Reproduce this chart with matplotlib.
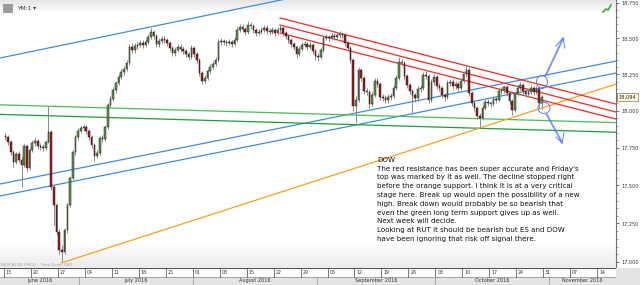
import matplotlib
matplotlib.use('Agg')
import matplotlib.pyplot as plt
import numpy as np
import matplotlib.ticker as mticker
from matplotlib.patches import Ellipse, Rectangle
from matplotlib.transforms import blended_transform_factory

# ---------------- data (YM:1, two bars per trading day, index 0 = Mon 13 Jun 2016) --------------
OPEN_FIRST = 17830
CLOSES = [17820, 17790, 17720, 17655, 17710, 17670, 17635, 17760, 17615, 17735,
          17780, 17795, 17760, 17755, 17750, 17790, 17855, 17490, 17370, 17195,
          17080, 17065, 17205, 17370, 17550, 17720, 17820, 17865, 17885, 17890,
          17865, 17820, 17770, 17695, 17715, 17815, 17810, 17890, 18040, 18080,
          18140, 18190, 18230, 18265, 18285, 18330, 18440, 18420, 18445, 18455,
          18465, 18455, 18475, 18510, 18545, 18515, 18460, 18480, 18495, 18490,
          18465, 18430, 18395, 18420, 18440, 18425, 18410, 18390, 18370, 18430,
          18390, 18350, 18260, 18205, 18225, 18270, 18300, 18320, 18350, 18475,
          18480, 18475, 18465, 18475, 18460, 18490, 18560, 18580, 18565, 18545,
          18595, 18585, 18560, 18535, 18545, 18560, 18570, 18550, 18545, 18560,
          18535, 18560, 18570, 18535, 18515, 18490, 18460, 18440, 18390, 18425,
          18455, 18460, 18440, 18455, 18410, 18375, 18370, 18420, 18500, 18510,
          18500, 18515, 18510, 18525, 18530, 18520, 18465, 18430, 18350, 18030,
          18075, 18280, 18225, 18135, 18130, 18045, 18110, 18205, 18185, 18095,
          18085, 18075, 18095, 18100, 18155, 18225, 18335, 18330, 18240, 18175,
          18135, 18110, 18085, 18150, 18155, 18245, 18240, 18075, 18195, 18230,
          18170, 18155, 18110, 18095, 18190, 18195, 18170, 18185, 18155, 18205,
          18250, 18280, 18120, 18055, 18020, 17965, 17950, 18020, 18060, 18055,
          18045, 18080, 18075, 18135, 18140, 18160, 18120, 18065, 18005, 18115,
          18155, 18175, 18135, 18115, 18130, 18155, 18130, 18150, 18050, 18094]
HIGHS = [17850, 17835, 17800, 17735, 17725, 17730, 17690, 17775, 17770, 17750,
         17800, 17815, 17810, 17780, 17775, 17805, 18030, 17870, 17505, 17385,
         17215, 17110, 17220, 17385, 17565, 17735, 17835, 17885, 17905, 17910,
         17905, 17880, 17835, 17785, 17735, 17830, 17835, 17905, 18055, 18100,
         18160, 18205, 18250, 18285, 18305, 18350, 18460, 18465, 18465, 18475,
         18490, 18485, 18495, 18530, 18570, 18560, 18530, 18500, 18515, 18515,
         18505, 18480, 18445, 18440, 18460, 18460, 18445, 18425, 18405, 18450,
         18445, 18405, 18365, 18275, 18245, 18290, 18320, 18340, 18370, 18495,
         18500, 18495, 18490, 18495, 18490, 18510, 18580, 18600, 18600, 18580,
         18620, 18615, 18600, 18575, 18565, 18580, 18590, 18590, 18570, 18580,
         18575, 18580, 18595, 18585, 18550, 18530, 18505, 18475, 18455, 18445,
         18475, 18480, 18475, 18475, 18470, 18425, 18395, 18440, 18520, 18530,
         18525, 18535, 18535, 18545, 18550, 18545, 18535, 18480, 18445, 18365,
         18100, 18300, 18295, 18240, 18155, 18145, 18130, 18225, 18225, 18200,
         18115, 18105, 18115, 18120, 18175, 18245, 18370, 18355, 18345, 18255,
         18190, 18150, 18125, 18170, 18175, 18265, 18270, 18255, 18215, 18250,
         18245, 18190, 18170, 18125, 18210, 18215, 18215, 18205, 18200, 18225,
         18270, 18315, 18295, 18135, 18075, 18035, 17985, 18040, 18080, 18080,
         18070, 18100, 18095, 18155, 18160, 18180, 18175, 18135, 18080, 18135,
         18175, 18195, 18190, 18150, 18150, 18175, 18170, 18170, 18170, 18110]
LOWS = [17800, 17770, 17700, 17620, 17640, 17650, 17490, 17620, 17590, 17600,
        17720, 17765, 17745, 17735, 17730, 17735, 17780, 17470, 17240, 17175,
        17050, 17005, 17050, 17190, 17355, 17535, 17705, 17805, 17850, 17865,
        17845, 17800, 17750, 17665, 17680, 17700, 17790, 17795, 17875, 18025,
        18065, 18125, 18175, 18215, 18245, 18270, 18315, 18395, 18400, 18425,
        18440, 18435, 18440, 18460, 18495, 18495, 18440, 18440, 18465, 18470,
        18445, 18410, 18375, 18380, 18405, 18405, 18390, 18370, 18350, 18355,
        18370, 18330, 18240, 18185, 18190, 18210, 18255, 18285, 18305, 18335,
        18455, 18455, 18445, 18450, 18440, 18445, 18475, 18545, 18545, 18525,
        18530, 18565, 18540, 18515, 18520, 18530, 18545, 18530, 18525, 18530,
        18515, 18520, 18545, 18515, 18495, 18470, 18440, 18420, 18360, 18375,
        18410, 18440, 18420, 18425, 18390, 18350, 18340, 18355, 18405, 18485,
        18480, 18485, 18490, 18495, 18505, 18500, 18445, 18410, 18330, 18000,
        17915, 18060, 18205, 18115, 18105, 18020, 18030, 18095, 18165, 18075,
        18065, 18055, 18055, 18075, 18085, 18140, 18210, 18310, 18220, 18155,
        18115, 17980, 18060, 18070, 18130, 18140, 18220, 18050, 18060, 18180,
        18150, 18135, 18090, 18070, 18080, 18170, 18150, 18150, 18135, 18140,
        18190, 18235, 18100, 18035, 18000, 17945, 17890, 17935, 18005, 18035,
        18025, 18030, 18055, 18060, 18115, 18125, 18100, 18045, 17970, 17990,
        18100, 18140, 18115, 18095, 18100, 18115, 18110, 18115, 18020, 18015]
FIRST_BAR = 0.25      # trading-day index of first bar centre
BAR_DAYS = 0.5        # two bars per trading day
LAST_PRICE = 18094

DAY_TICK_LABELS = ['13', '20', '27', '04', '11', '18', '25', '01', '08', '15', '22', '29',
                   '05', '12', '19', '26', '03', '10', '17', '24', '31', '07', '14']
DAY_TICK_POS = list(range(0, 111, 5))
MONTH_NAMES = ['June 2016', 'July 2016', 'August 2016', 'September 2016',
               'October 2016', 'November 2016']
MONTH_STARTS = [-0.74, 14, 35, 58, 80, 101]
X_MIN, X_MAX = -0.74, 113.5
Y_MIN, Y_MAX = 16962, 18770
PRICE_TICKS = [17000, 17250, 17500, 17750, 18000, 18250, 18500, 18750]

# trend lines: ((index, price), (index, price))
BLUE_LINES = [((-0.74, 18363), (54.9, 18798)),
              ((-0.74, 17509), (113.5, 18342)),
              ((-0.74, 17430), (113.5, 18259))]
GREEN_LINES = [((-0.74, 18041), (113.5, 17920)),
               ((-0.74, 17976), (113.5, 17855))]
GREEN_COLORS = ['#4cbb5a', '#1f9a3c']
ORANGE_LINE = ((10.57, 16994), (113.5, 18183))
RED_LINES = [((51.2, 18643), (113.5, 18046)),
             ((51.2, 18593), (113.5, 17992)),
             ((51.2, 18537), (113.5, 17944))]

NOTE = ("DOW\n"
        "The red resistance has been super accurate and Friday's\n"
        "top was marked by it as well. The decline stopped right\n"
        "before the orange support. I think it is at a very critical\n"
        "stage here. Break up would open the possibility of a new\n"
        "high. Break down would probably be so bearish that\n"
        "even the green long term support gives up as well.\n"
        "Next week will decide.\n"
        "Looking at RUT it should be bearish but ES and DOW\n"
        "have been ignoring that risk off signal there.")

# ---------------- figure ----------------
W, H = 640, 285
fig = plt.figure(figsize=(6.4, 2.85), dpi=100, facecolor='white')
ax = fig.add_axes([0, 17 / H, 616 / W, 268 / H])
ax.set_facecolor('white')
ax.set_yscale('log')
ax.set_xlim(X_MIN, X_MAX)
ax.set_ylim(Y_MIN, Y_MAX)

# subtle gradients top / bottom of plot
def vgrad(alpha_bottom, alpha_top, grey):
    a = np.linspace(alpha_top, alpha_bottom, 60)
    img = np.zeros((60, 1, 4))
    img[..., :3] = grey
    img[:, 0, 3] = a
    return img

ax.imshow(vgrad(0.0, 0.55, 0.80), extent=(0, 1, 0.95, 1.0), transform=ax.transAxes,
          aspect='auto', zorder=0, interpolation='bilinear')
ax.imshow(vgrad(0.55, 0.0, 0.86), extent=(0, 1, 0.0, 0.10), transform=ax.transAxes,
          aspect='auto', zorder=0, interpolation='bilinear')

# trend lines
for (p0, p1) in BLUE_LINES:
    ax.plot([p0[0], p1[0]], [p0[1], p1[1]], color='#3a8fdc', lw=0.9, zorder=3)
for (p0, p1), c in zip(GREEN_LINES, GREEN_COLORS):
    ax.plot([p0[0], p1[0]], [p0[1], p1[1]], color=c, lw=0.9, zorder=3)
ax.plot([ORANGE_LINE[0][0], ORANGE_LINE[1][0]], [ORANGE_LINE[0][1], ORANGE_LINE[1][1]],
        color='#f5a21e', lw=0.9, zorder=3)
for (p0, p1) in RED_LINES:
    ax.plot([p0[0], p1[0]], [p0[1], p1[1]], color='#ee2a22', lw=0.9, zorder=3)

# candles
n = len(CLOSES)
t = np.array([FIRST_BAR + BAR_DAYS * k for k in range(n)])
closes = np.array(CLOSES, float)
opens = np.array([OPEN_FIRST] + CLOSES[:-1], float)
highs = np.array(HIGHS, float)
lows = np.array(LOWS, float)
ax.vlines(t, lows, highs, color='#8a8a8a', lw=0.7, zorder=4)
up = closes >= opens
bottoms = np.minimum(opens, closes)
heights = np.maximum(np.abs(closes - opens), 2)
ax.bar(t, heights, bottom=bottoms, width=0.3,
       color=np.where(up, '#5f9a40', '#a81616'), edgecolor='#1c1c1c',
       linewidth=0.35, zorder=5)

# axes styling
for s in ['top', 'left', 'bottom']:
    ax.spines[s].set_visible(False)
ax.spines['right'].set_color('#707070')
ax.spines['right'].set_linewidth(0.8)
ax.yaxis.tick_right()
ax.yaxis.set_major_locator(mticker.FixedLocator(PRICE_TICKS))
ax.yaxis.set_major_formatter(mticker.FuncFormatter(lambda v, p: f'{v:,.0f}'))
ax.yaxis.set_minor_locator(mticker.FixedLocator(np.arange(16950, 18800, 50)))
ax.yaxis.set_minor_formatter(mticker.NullFormatter())
ax.tick_params(axis='y', which='major', labelsize=3.6, length=2.5, width=0.5,
               colors='#333333', pad=1.5)
ax.tick_params(axis='y', which='minor', length=1.2, width=0.4, colors='#555555')
ax.set_xticks([])

# last price box
bt = blended_transform_factory(ax.transAxes, ax.transData)
ax.text(1.004, LAST_PRICE, f'{LAST_PRICE:,}', transform=bt, ha='left', va='center',
        fontsize=3.6, color='#222222', zorder=10, clip_on=False,
        bbox=dict(boxstyle='square,pad=0.3', fc='#fff9d8', ec='#555555', lw=0.4))

# note text
ax.text(377 / 616, 1 - 157 / 268, NOTE, transform=ax.transAxes, ha='left', va='top',
        fontsize=5.1, color='#111111', linespacing=1.55, zorder=8)

# header
def fx(x, y):
    return (x / W, 1 - y / H)

fig.patches.append(Rectangle(fx(3, 12), 9 / W, 8 / H, transform=fig.transFigure,
                             fc='#9a9a9a', ec='#777777', lw=0.4))
fig.text(*fx(17, 8), 'YM:1 \u25be', fontsize=4.2, color='#333333', va='center', ha='left')
fig.text(*fx(1, 265), 'INDICATIVE PRICE    Time Zone: GMT', fontsize=2.8,
         color='#a0a0a0', va='center', ha='left')
# small green icon top right
fig.lines.append(plt.Line2D([603 / W, 606 / W, 608 / W, 611 / W],
                            [1 - 12 / H, 1 - 9 / H, 1 - 10 / H, 1 - 5 / H],
                            transform=fig.transFigure, color='#3aa63a', lw=1.2))

# hand-drawn blue annotations
bl = '#5a7cf2'
for (cx, cy, w, h) in [(542, 82, 11, 13), (544, 108, 12, 11)]:
    fig.patches.append(Ellipse(fx(cx, cy), w / W, h / H, transform=fig.transFigure,
                               fill=False, ec=bl, lw=0.7))
arrows = [((545, 76), (563, 38)), ((546, 114), (562, 143))]
for (a, b) in arrows:
    fig.lines.append(plt.Line2D([a[0] / W, b[0] / W], [1 - a[1] / H, 1 - b[1] / H],
                                transform=fig.transFigure, color=bl, lw=0.7))
    fig.lines.append(plt.Line2D([(a[0] + 1) / W, (b[0] + 1) / W],
                                [1 - a[1] / H, 1 - b[1] / H],
                                transform=fig.transFigure, color=bl, lw=0.5))
# arrow heads
fig.lines.append(plt.Line2D([556 / W, 563 / W, 565 / W], [1 - 46 / H, 1 - 38 / H, 1 - 48 / H],
                            transform=fig.transFigure, color=bl, lw=0.7))
fig.lines.append(plt.Line2D([556 / W, 562 / W, 564 / W], [1 - 137 / H, 1 - 143 / H, 1 - 133 / H],
                            transform=fig.transFigure, color=bl, lw=0.7))

# ---------------- date strip ----------------
ax2 = fig.add_axes([0, 0, 616 / W, 17 / H])
ax2.set_xlim(X_MIN, X_MAX)
ax2.set_ylim(0, 1)
ax2.axis('off')
ax2.add_patch(Rectangle((X_MIN, 0.5), X_MAX - X_MIN, 0.5, fc='white', ec='none'))
ax2.add_patch(Rectangle((X_MIN, 0), X_MAX - X_MIN, 0.5, fc='#e4e4e4', ec='none'))
ax2.axhline(1.0, color='#555555', lw=0.8)
ax2.axhline(0.5, color='#888888', lw=0.5)
for p, lab in zip(DAY_TICK_POS, DAY_TICK_LABELS):
    ax2.plot([p, p], [0.5, 1.0], color='#444444', lw=0.5)
    ax2.text(p + 0.35, 0.75, lab, fontsize=3.4, color='#333333', va='center', ha='left')
bounds = MONTH_STARTS + [X_MAX]
for i, name in enumerate(MONTH_NAMES):
    a, b = bounds[i], bounds[i + 1]
    if i > 0:
        ax2.plot([a, a], [0, 0.5], color='#999999', lw=0.6)
    ax2.text((a + b) / 2, 0.24, name, fontsize=3.6, color='#333333', ha='center', va='center')
fig.patches.append(Rectangle((616 / W, 0), 24 / W, 17 / H, transform=fig.transFigure,
                             fc='#e4e4e4', ec='none'))

fig.savefig('out.png', dpi=100)
